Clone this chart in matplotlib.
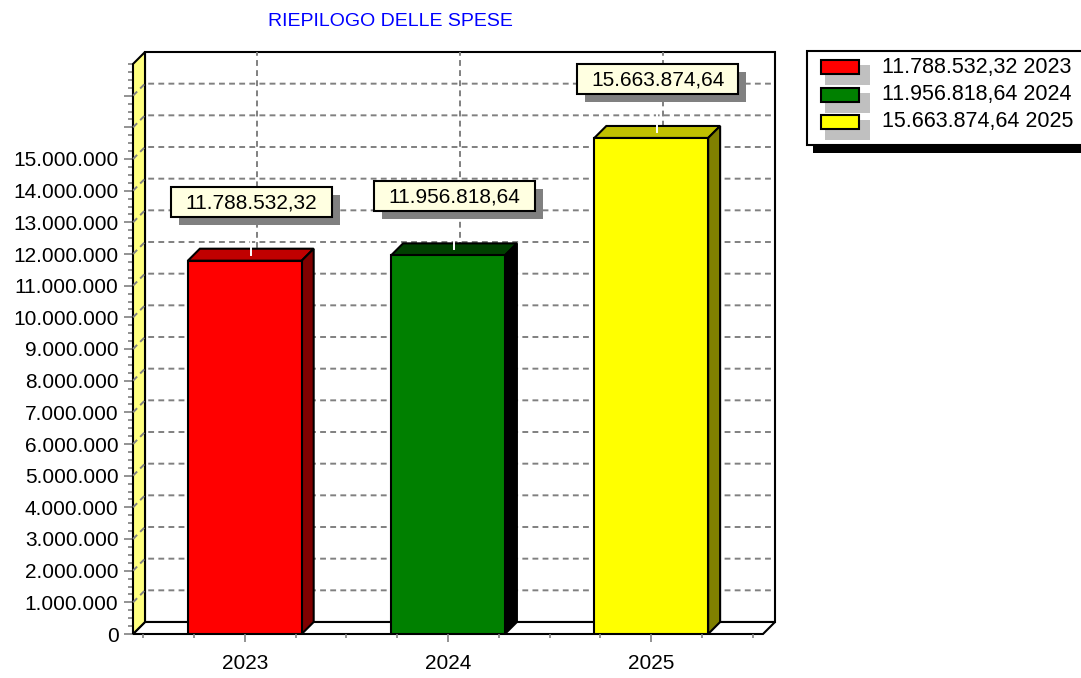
import matplotlib
matplotlib.use('Agg')
import matplotlib.pyplot as plt
import matplotlib.patches as mpatches
import matplotlib.transforms as mtransforms
from matplotlib.lines import Line2D
import numpy as np

plt.rcParams['font.family'] = ['Liberation Sans', 'DejaVu Sans']

# dati
anni = ['2023', '2024', '2025']
spese = [11788532.32, 11956818.64, 15663874.64]
colori = ['#FF0000', '#008000', '#FFFF00']
colori_top = ['#C00000', '#004000', '#C0C000']
colori_lato = ['#800000', '#000000', '#808000']
titolo = 'RIEPILOGO DELLE SPESE'

W, H = 1081, 678
PROF = 12          # profondita' 3D in pixel
XMIN, XMAX = -0.55, 2.55
YMAX = 18e6
LARG = 0.56


def fmt_it(v, dec=2):
    s = f'{v:,.{dec}f}'
    return s.replace(',', '#').replace('.', ',').replace('#', '.')


fig = plt.figure(figsize=(W / 100, H / 100), dpi=100)
ax = fig.add_axes([133 / W, 44 / H, 630 / W, 570 / H])
ax.set_xlim(XMIN, XMAX)
ax.set_ylim(0, YMAX)
for s in ax.spines.values():
    s.set_visible(False)
ax.patch.set_visible(False)

ident = mtransforms.IdentityTransform()


def P(x, y, d=0):
    px, py = ax.transData.transform((x, y))
    return (px + PROF * d, py + PROF * d)


def poly(pts, **kw):
    ax.add_patch(mpatches.Polygon(pts, closed=True, transform=ident, clip_on=False, **kw))


def linea(pts, **kw):
    xs = [p[0] for p in pts]
    ys = [p[1] for p in pts]
    ax.add_line(Line2D(xs, ys, transform=ident, clip_on=False, **kw))


# parete di fondo
poly([P(XMIN, 0, 1), P(XMAX, 0, 1), P(XMAX, YMAX, 1), P(XMIN, YMAX, 1)],
     fc='white', ec='black', lw=1.5, zorder=0.5)
# pavimento
poly([P(XMIN, 0, 0), P(XMAX, 0, 0), P(XMAX, 0, 1), P(XMIN, 0, 1)],
     fc='white', ec='black', lw=1.5, zorder=1.5)
# parete sinistra
poly([P(XMIN, 0, 0), P(XMIN, YMAX, 0), P(XMIN, YMAX, 1), P(XMIN, 0, 1)],
     fc='#FFFF80', ec='black', lw=1.5, zorder=1.6)

# griglia
griglia = dict(color='#808080', lw=1.4, linestyle=(0, (3, 2.2)), zorder=1.7)
for y in np.arange(1e6, YMAX, 1e6):
    linea([P(XMIN, y, 0), P(XMIN, y, 1), P(XMAX, y, 1)], **griglia)
for i in range(len(anni)):
    linea([P(i, 0, 1), P(i, YMAX, 1)], **griglia)

# barre
x = np.arange(len(anni))
ax.bar(x, spese, width=LARG, color=colori, edgecolor='black', linewidth=1.5, zorder=3)
for i, v in enumerate(spese):
    l, r = i - LARG / 2, i + LARG / 2
    poly([P(l, v, 0), P(r, v, 0), P(r, v, 1), P(l, v, 1)],
         fc=colori_top[i], ec='black', lw=1.5, zorder=2.9)
    poly([P(r, 0, 0), P(r, v, 0), P(r, v, 1), P(r, 0, 1)],
         fc=colori_lato[i], ec='black', lw=1.5, zorder=2.9)

# etichette dei valori
for i, v in enumerate(spese):
    bx, by = P(i, v, 0.5)
    cx, cy = bx, by + 53
    linea([(bx, by), (bx, cy - 15)], color='white', lw=1.4, zorder=3.5)
    ax.add_patch(mpatches.Rectangle((cx - 80 + 8, cy - 15 - 8), 161, 30, transform=ident,
                                    fc='#808080', ec='none', clip_on=False, zorder=5))
    ax.add_patch(mpatches.Rectangle((cx - 80, cy - 15), 161, 30, transform=ident,
                                    fc='#FFFFE1', ec='black', lw=1.5, clip_on=False, zorder=6))
    ax.text(cx + 0.5, cy - 1, fmt_it(v), transform=ident, ha='center', va='center',
            fontsize=15, zorder=7)

# assi
yt = np.arange(0, YMAX, 1e6)
ax.set_yticks(yt, [fmt_it(v, 0) if v <= 15e6 else '' for v in yt])
ax.set_yticks(np.arange(0, YMAX + 1, 250000), minor=True)
ax.set_xticks(x, anni)
ax.set_xticks(np.arange(-0.5, 2.51, 0.25), minor=True)
ax.tick_params(axis='y', which='major', length=6.5, width=1.2, color='#808080', pad=4, labelsize=15)
ax.tick_params(axis='y', which='minor', length=3.6, width=1.2, color='#808080')
ax.tick_params(axis='x', which='major', length=5.8, width=1.2, color='#808080', pad=8.5, labelsize=15)
ax.tick_params(axis='x', which='minor', length=2.9, width=1.2, color='#808080')

# titolo e legenda
lax = fig.add_axes([0, 0, 1, 1])
lax.set_xlim(0, W)
lax.set_ylim(H, 0)
lax.axis('off')
lax.patch.set_visible(False)
lax.text(390, 22, titolo, color='#0000FF', fontsize=14, ha='center', va='center')

lax.add_patch(mpatches.Rectangle((813, 59), 300, 94, fc='black', ec='none'))
lax.add_patch(mpatches.Rectangle((807, 51), 300, 94, fc='white', ec='black', lw=1.5))
for k, (anno, v) in enumerate(zip(anni, spese)):
    y = 67 + 27.5 * k
    lax.add_patch(mpatches.Rectangle((825, y - 2), 45, 20, fc='#C0C0C0', ec='none'))
    lax.add_patch(mpatches.Rectangle((821, y - 7), 38, 14, fc=colori[k], ec='black', lw=1.5))
    lax.text(882, y, f'{fmt_it(v)} {anno}', fontsize=15.5, va='center', ha='left')

fig.savefig('out.png', dpi=100)
